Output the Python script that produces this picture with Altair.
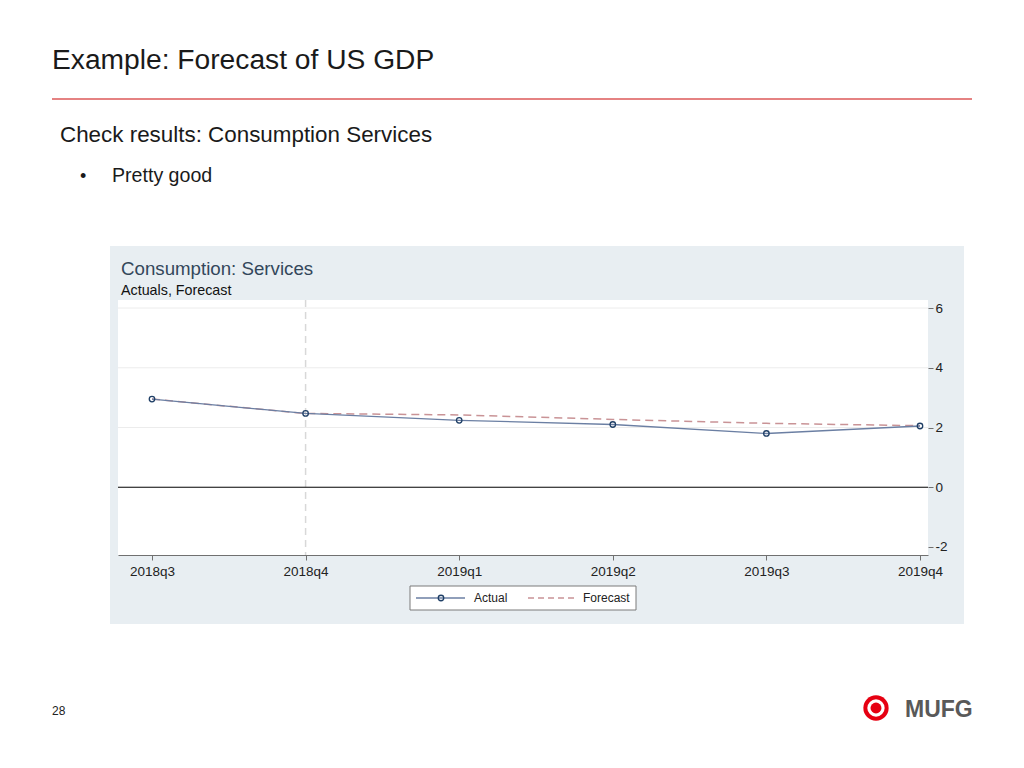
import altair as alt
import pandas as pd

# ---------------- data ----------------
quarters = ["2018q3", "2018q4", "2019q1", "2019q2", "2019q3", "2019q4"]
actual = [2.95, 2.47, 2.24, 2.10, 1.80, 2.05]
forecast = [2.95, 2.47, 2.42, 2.27, 2.14, 2.06]
y_ticks = [-2, 0, 2, 4, 6]
grid_vals = [2, 4, 6]
zero_val = [0]
vline_q = [1]

FONT = "Liberation Sans"
W, H = 810, 255

df = pd.DataFrame({
    "q": list(range(len(quarters))),
    "quarter": quarters,
    "actual": actual,
    "forecast": forecast,
})
grid_df = pd.DataFrame({"v": grid_vals})
zero_df = pd.DataFrame({"v": zero_val})
vline_df = pd.DataFrame({"q": vline_q})
one = pd.DataFrame({"k": [0]})

xs = alt.Scale(domain=[-0.2213, 5.0521], nice=False, zero=False)
ys = alt.Scale(domain=[-2.268, 6.268], nice=False, zero=False)

label_expr = "[" + ",".join("'%s'" % q for q in quarters) + "][datum.value]"

x_axis = alt.Axis(values=list(range(len(quarters))), labelExpr=label_expr, title=None,
                  grid=False, orient="bottom", domainColor="#707070", tickColor="#707070",
                  tickSize=5, labelFont=FONT, labelFontSize=13.5, labelColor="#222222",
                  labelPadding=4, zindex=1, labelFlush=False, labelOverlap=False)
y_axis = alt.Axis(values=y_ticks, labelExpr="'' + datum.value", title=None, grid=False,
                  orient="right", domain=False, tickColor="#707070", tickSize=5,
                  labelFont=FONT, labelFontSize=13.5, labelColor="#222222",
                  labelPadding=2, zindex=1)


def txt(x, y, s, size, color="#1a1a1a", weight="normal", align="left", baseline="alphabetic"):
    return alt.Chart(one).mark_text(text=s, fontSize=size, font=FONT, color=color,
                                    fontWeight=weight, align=align, baseline=baseline).encode(
        x=alt.value(x), y=alt.value(y))


def rect(x1, x2, y1, y2, fill, stroke=None, sw=0):
    kw = dict(fill=fill)
    if stroke:
        kw.update(stroke=stroke, strokeWidth=sw)
    return alt.Chart(one).mark_rect(**kw).encode(
        x=alt.value(x1), x2=alt.value(x2), y=alt.value(y1), y2=alt.value(y2))


def hrule(x1, x2, y, color, sw=1, dash=None):
    kw = dict(color=color, strokeWidth=sw)
    if dash:
        kw["strokeDash"] = dash
    return alt.Chart(one).mark_rule(**kw).encode(x=alt.value(x1), x2=alt.value(x2), y=alt.value(y))


def dot(x, y, size, fill=None, stroke=None, sw=1):
    kw = dict(shape="circle", size=size, opacity=1)
    if fill:
        kw.update(filled=True, fill=fill, color=fill)
    else:
        kw.update(filled=False, stroke=stroke, strokeWidth=sw)
    return alt.Chart(one).mark_point(**kw).encode(x=alt.value(x), y=alt.value(y))


ACT_LINE = "#6b7fa3"
ACT_PT = "#1f3f66"
FC_LINE = "#c99396"

layers = []
# chart panel background and white plot area
layers.append(rect(-8, 846, -54, 324, "#e8eef2"))
layers.append(rect(0, W, 0, H, "#ffffff"))

# grid lines, reference lines
layers.append(alt.Chart(grid_df).mark_rule(color="#ececec", strokeWidth=1).encode(
    y=alt.Y("v:Q", scale=ys, axis=y_axis)))
layers.append(alt.Chart(vline_df).mark_rule(color="#d8d8d8", strokeWidth=1.5, strokeDash=[7, 5]).encode(
    x=alt.X("q:Q", scale=xs, axis=x_axis)))
layers.append(alt.Chart(zero_df).mark_rule(color="#000000", strokeWidth=1).encode(
    y=alt.Y("v:Q", scale=ys, axis=y_axis)))

# series
layers.append(alt.Chart(df).mark_line(color=FC_LINE, strokeWidth=1.5, strokeDash=[8, 5]).encode(
    x=alt.X("q:Q", scale=xs, axis=x_axis), y=alt.Y("forecast:Q", scale=ys, axis=y_axis)))
layers.append(alt.Chart(df).mark_line(color=ACT_LINE, strokeWidth=1.3).encode(
    x=alt.X("q:Q", scale=xs, axis=x_axis), y=alt.Y("actual:Q", scale=ys, axis=y_axis)))
layers.append(alt.Chart(df).mark_point(shape="circle", filled=False, color=ACT_PT, size=30,
                                       strokeWidth=1.3, opacity=1).encode(
    x=alt.X("q:Q", scale=xs, axis=x_axis), y=alt.Y("actual:Q", scale=ys, axis=y_axis)))

# chart titles
layers.append(txt(3, -25, "Consumption: Services", 18.7, color="#33475b"))
layers.append(txt(3, -5, "Actuals, Forecast", 14.3, color="#111111"))

# legend
layers.append(rect(292, 518, 286, 310, "#ffffff", stroke="#7a7a7a", sw=1))
layers.append(hrule(298, 347, 298, ACT_LINE, 1.3))
layers.append(dot(323, 298, 30, stroke=ACT_PT, sw=1.3))
layers.append(txt(356, 302, "Actual", 12, color="#222222"))
layers.append(hrule(410, 457, 298, FC_LINE, 1.5, dash=[6, 4]))
layers.append(txt(465, 302, "Forecast", 12, color="#222222"))

# slide texts
layers.append(txt(-66, -231, "Example: Forecast of US GDP", 28.2, color="#1a1a1a"))
layers.append(hrule(-66, 854, -201, "#dc5858", 1.5))
layers.append(txt(-58, -158.5, "Check results: Consumption Services", 22.4, color="#1a1a1a"))
layers.append(txt(-38, -118.5, "•", 18, color="#1a1a1a"))
layers.append(txt(-6, -118.5, "Pretty good", 19.6, color="#1a1a1a"))
layers.append(txt(-66, 415, "28", 12, color="#222222"))

# logo
layers.append(dot(758, 408, 640, fill="#e60012"))
layers.append(dot(758, 408, 300, fill="#ffffff"))
layers.append(dot(758, 408, 120, fill="#e60012"))
layers.append(txt(787, 417, "MUFG", 23, color="#595959", weight="bold"))

chart = alt.layer(*layers).properties(
    width=W, height=H,
    padding={"left": 110, "top": 292, "right": 88, "bottom": 205},
    autosize=alt.AutoSizeParams(type="none"),
).configure_view(stroke=None)

chart.save("out.html", embed_options={"renderer": "svg", "actions": False})
